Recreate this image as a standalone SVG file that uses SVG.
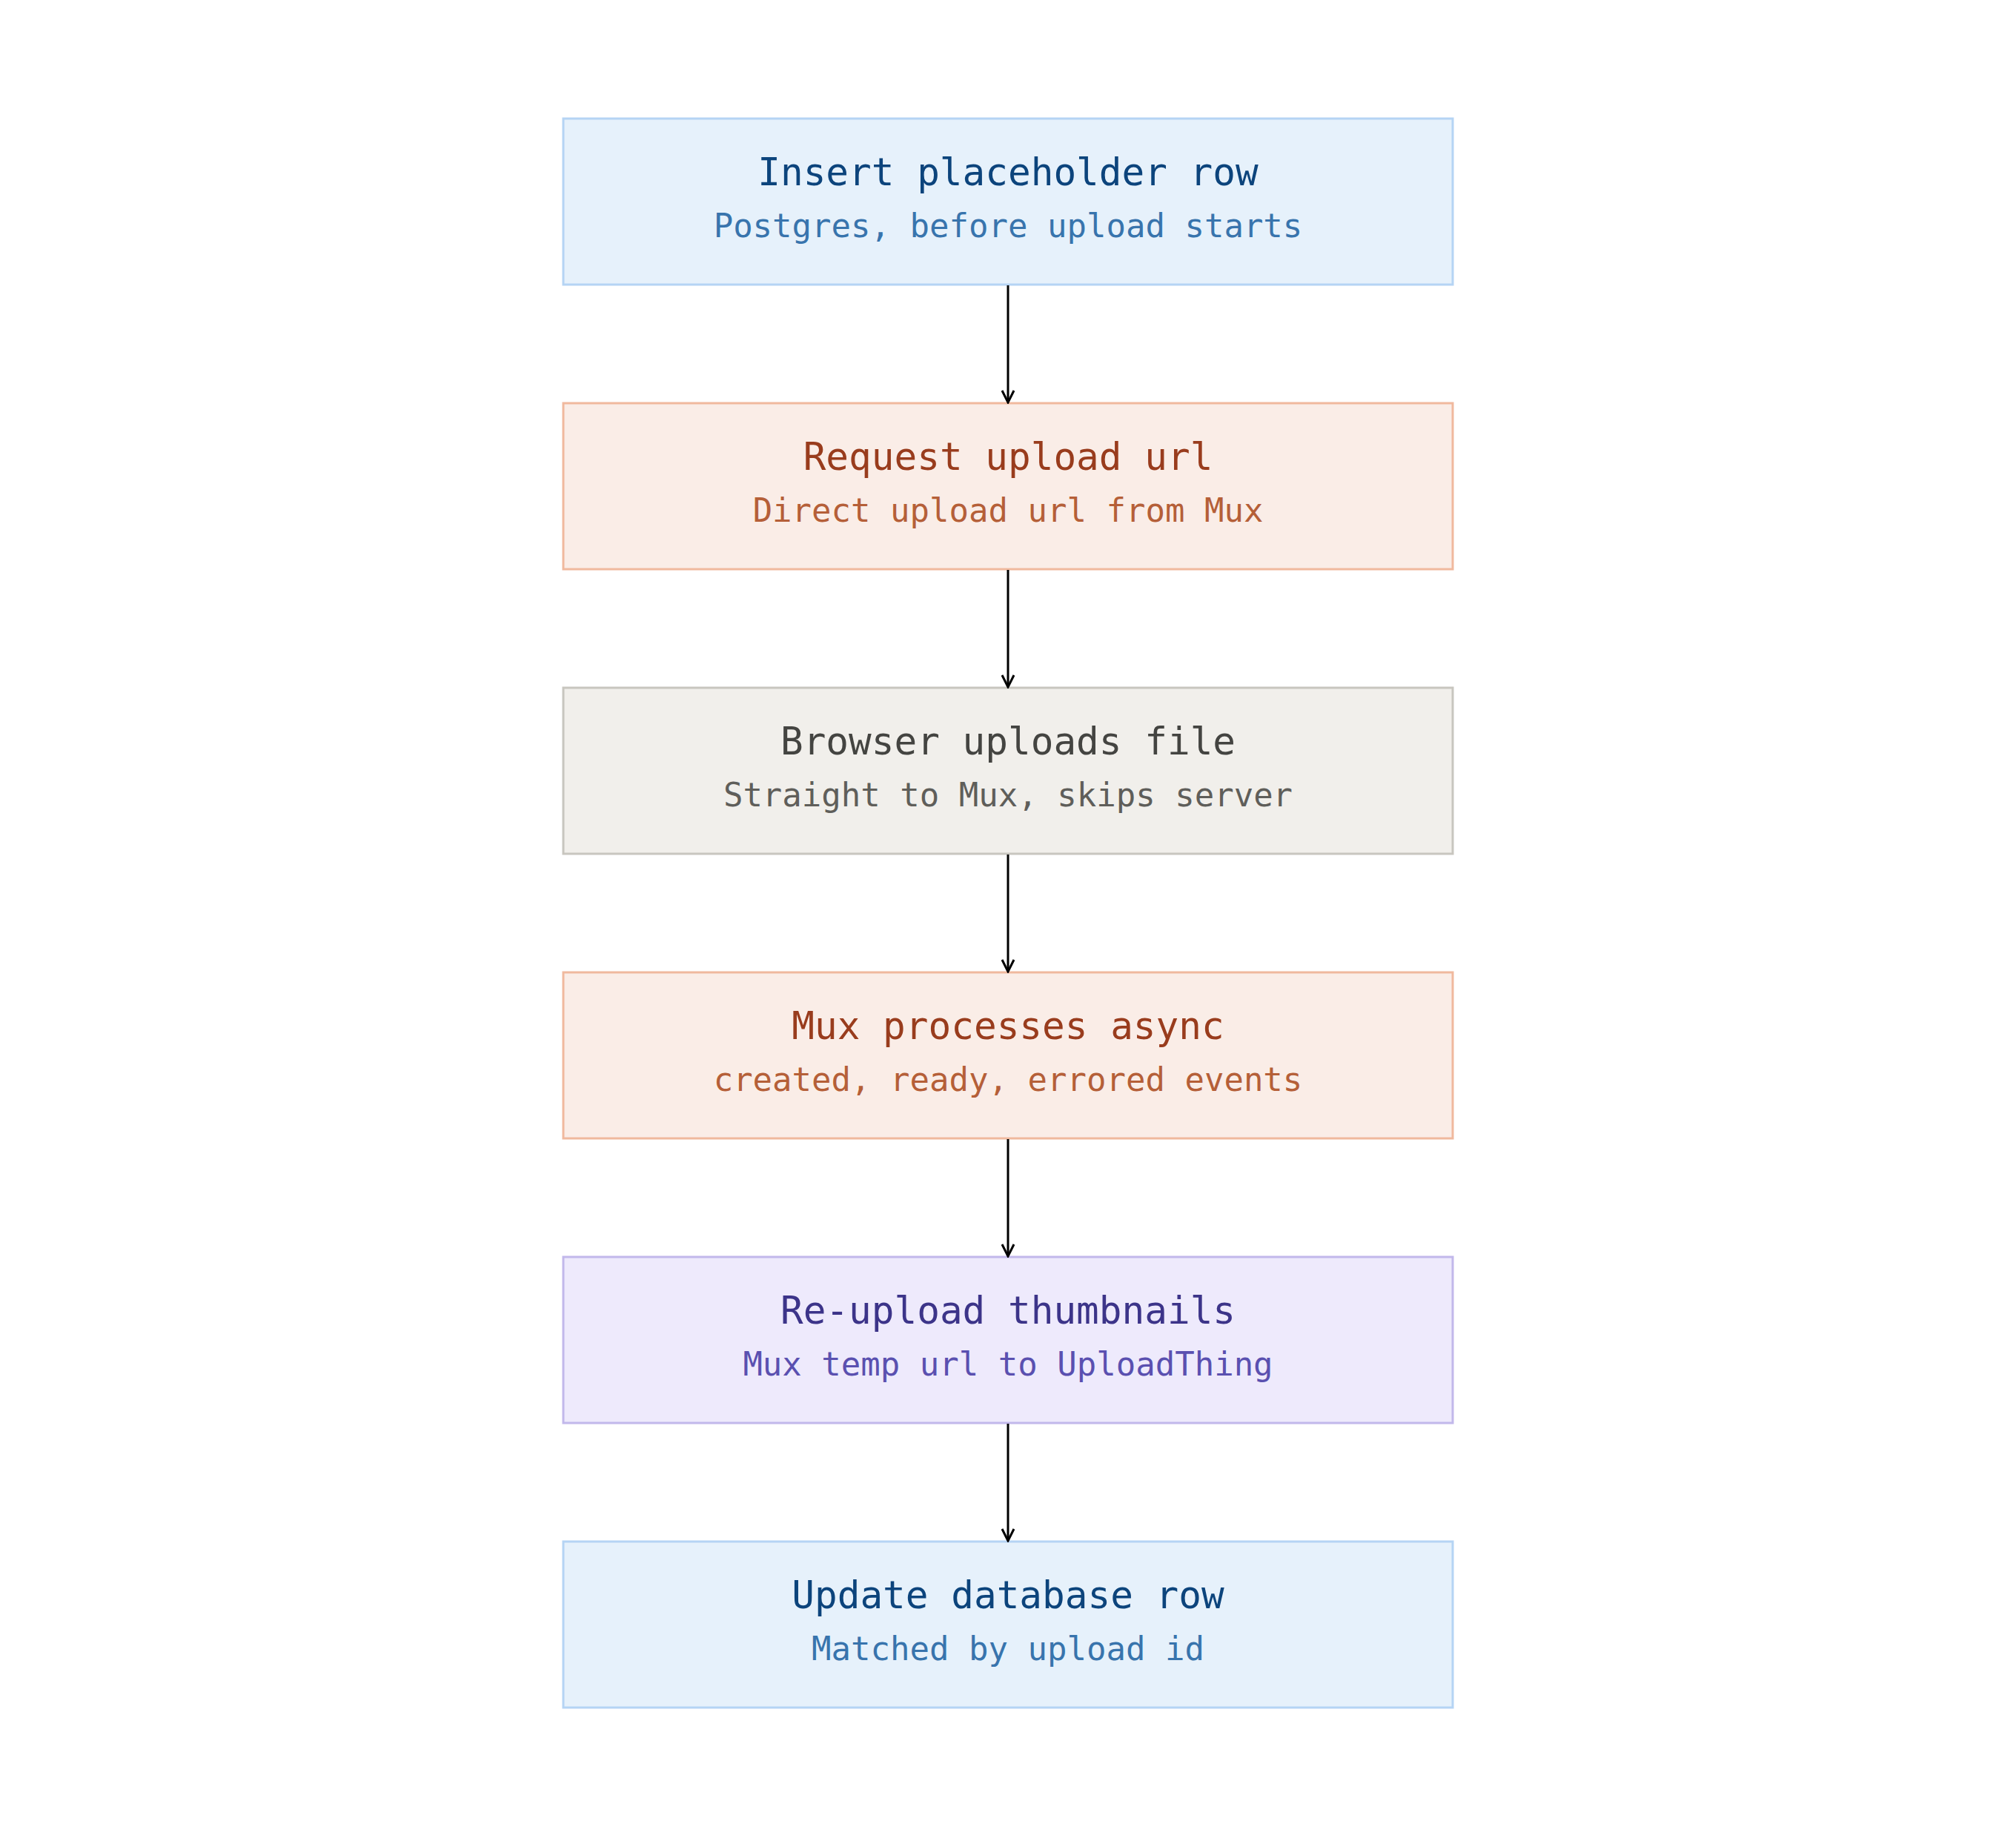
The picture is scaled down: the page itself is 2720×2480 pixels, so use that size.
<svg xmlns="http://www.w3.org/2000/svg" width="2720" height="2480" viewBox="0 0 2720 2480">
<style>
.t{font-family:"DejaVu Sans Mono","Liberation Mono",monospace;text-anchor:middle}
.h{font-size:51px}
.s{font-size:44px}
.blue rect{fill:#e6f1fb;stroke:#b5d4f4}
.blue .h{fill:#0c447c}.blue .s{fill:#3874ad}
.or rect{fill:#faede7;stroke:#f0b99e}
.or .h{fill:#993c1d}.or .s{fill:#b55f38}
.gr rect{fill:#f1efeb;stroke:#c8c6bf}
.gr .h{fill:#444441}.gr .s{fill:#5f5e5a}
.pu rect{fill:#eeeafc;stroke:#c2b8eb}
.pu .h{fill:#3c3489}.pu .s{fill:#5a50b0}
rect{stroke-width:3}
.c{stroke:#000;stroke-width:3;fill:none}
</style>
<defs><marker id="a" viewBox="0 0 20 20" refX="18" refY="10" markerWidth="20" markerHeight="20" orient="auto" markerUnits="userSpaceOnUse"><path d="M2 2L18 10L2 18" fill="none" stroke="#000" stroke-width="3"/></marker></defs>
<rect width="2720" height="2480" fill="#fff"/>
<g id="n1" class="blue"><rect x="760" y="160" width="1200" height="224"/><text class="t h" x="1360" y="250">Insert placeholder row</text><text class="t s" x="1360" y="320">Postgres, before upload starts</text></g>
<g id="n2" class="or"><rect x="760" y="544" width="1200" height="224"/><text class="t h" x="1360" y="634">Request upload url</text><text class="t s" x="1360" y="704">Direct upload url from Mux</text></g>
<g id="n3" class="gr"><rect x="760" y="928" width="1200" height="224"/><text class="t h" x="1360" y="1018">Browser uploads file</text><text class="t s" x="1360" y="1088">Straight to Mux, skips server</text></g>
<g id="n4" class="or"><rect x="760" y="1312" width="1200" height="224"/><text class="t h" x="1360" y="1402">Mux processes async</text><text class="t s" x="1360" y="1472">created, ready, errored events</text></g>
<g id="n5" class="pu"><rect x="760" y="1696" width="1200" height="224"/><text class="t h" x="1360" y="1786">Re-upload thumbnails</text><text class="t s" x="1360" y="1856">Mux temp url to UploadThing</text></g>
<g id="n6" class="blue"><rect x="760" y="2080" width="1200" height="224"/><text class="t h" x="1360" y="2170">Update database row</text><text class="t s" x="1360" y="2240">Matched by upload id</text></g>
<g id="connectors">
<line class="c" x1="1360" y1="385" x2="1360" y2="543" marker-end="url(#a)"/>
<line class="c" x1="1360" y1="769" x2="1360" y2="927" marker-end="url(#a)"/>
<line class="c" x1="1360" y1="1153" x2="1360" y2="1311" marker-end="url(#a)"/>
<line class="c" x1="1360" y1="1537" x2="1360" y2="1695" marker-end="url(#a)"/>
<line class="c" x1="1360" y1="1921" x2="1360" y2="2079" marker-end="url(#a)"/>
</g>
</svg>
